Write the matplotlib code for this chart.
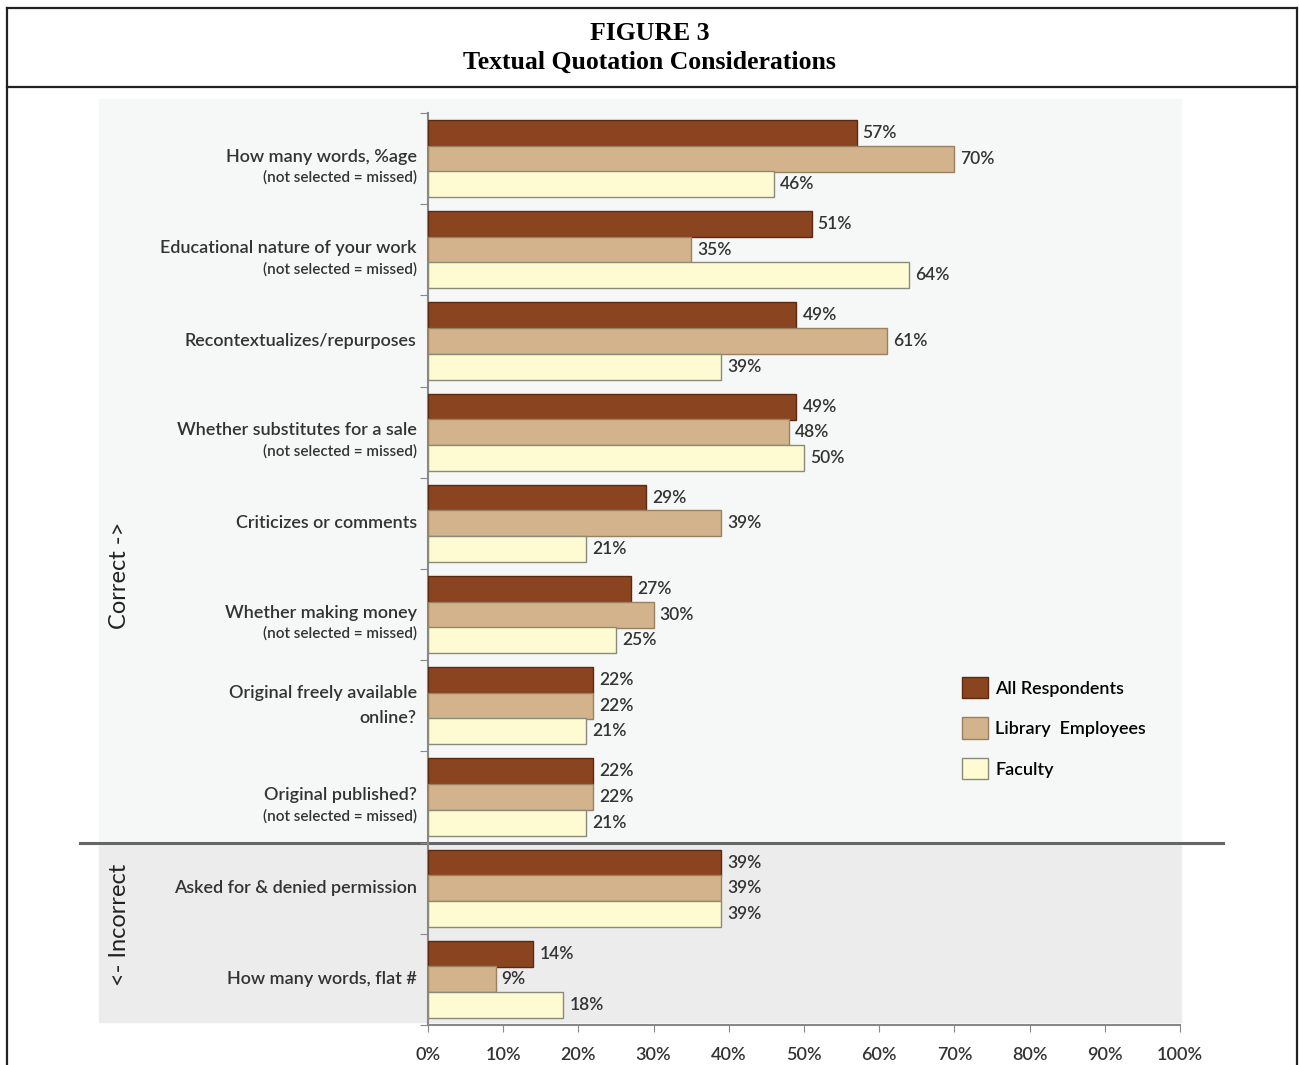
import matplotlib.pyplot as plt
from matplotlib.patches import Rectangle, Patch
from matplotlib.lines import Line2D

# DATA
categories = ["How many words, %age", "Educational nature of your work",
              "Recontextualizes/repurposes", "Whether substitutes for a sale",
              "Criticizes or comments", "Whether making money",
              "Original freely available\nonline?", "Original published?",
              "Asked for & denied permission", "How many words, flat #"]
missed_note = [True, True, False, True, False, True, False, True, False, False]
all_resp = [57, 51, 49, 49, 29, 27, 22, 22, 39, 14]
library = [70, 35, 61, 48, 39, 30, 22, 22, 39, 9]
faculty = [46, 64, 39, 50, 21, 25, 21, 21, 39, 18]
series_names = ["All Respondents", "Library  Employees", "Faculty"]
colors = ["#8b4420", "#d3b38b", "#fefad2"]
edges = ["#5a2a12", "#9a8062", "#8a8a7a"]
xticks = list(range(0, 101, 10))

W, H = 1299, 1065
fig = plt.figure(figsize=(W / 100, H / 100), dpi=100)
plt.rcParams['font.family'] = ['Lato', 'DejaVu Sans']

def fx(px):
    return px / W

def fy(py):
    return 1 - py / H

# backgrounds
fig.patches.append(Rectangle((fx(99), fy(841)), fx(1181 - 99), (841 - 99) / H,
                             transform=fig.transFigure, color="#f6f8f8", zorder=-2))
fig.patches.append(Rectangle((fx(99), fy(1022)), fx(1181 - 99), (1022 - 845) / H,
                             transform=fig.transFigure, color="#ececec", zorder=-2))

# frame lines
for xs, ys, lw, c in [([7, 1297], [8, 8], 1.6, "#222"),
                      ([7, 1297], [87, 87], 1.6, "#222"),
                      ([7, 7], [8, 1065], 1.6, "#222"),
                      ([1297, 1297], [8, 1065], 1.6, "#222"),
                      ([80, 1223], [843, 843], 2.2, "#666")]:
    fig.lines.append(Line2D([fx(v) for v in xs], [fy(v) for v in ys], lw=lw,
                            color=c, transform=fig.transFigure, zorder=-1))

fig.text(0.5, fy(33), "FIGURE 3", ha="center", va="center", fontsize=18.5,
         fontweight="bold", family="Liberation Serif")
fig.text(0.5, fy(62), "Textual Quotation Considerations", ha="center", va="center",
         fontsize=18.5, fontweight="bold", family="Liberation Serif")

ax = fig.add_axes([fx(428), fy(1025), fx(1180 - 428), (1025 - 113) / H])
ax.set_facecolor("none")
ax.set_zorder(2)

n = len(categories)
bh = 0.285
offsets = [0.22, 0.5, 0.78]
for s, vals in enumerate([all_resp, library, faculty]):
    ys = [i + offsets[s] for i in range(n)]
    ax.barh(ys, vals, height=bh, color=colors[s], edgecolor=edges[s], lw=1,
            label=series_names[s], zorder=3)
    for y, v in zip(ys, vals):
        ax.text(v + 0.8, y, f"{v}%", va="center", ha="left", fontsize=12.5,
                color="#333", fontweight="semibold")

ax.set_xlim(0, 100)
ax.set_ylim(n, 0)
ax.set_xticks(xticks)
ax.set_xticklabels([f"{t}%" for t in xticks], fontsize=13, color="#333",
                   fontweight="semibold")
ax.set_yticks(range(n + 1))
ax.set_yticklabels([])
ax.tick_params(axis="x", direction="out", length=5, color="#888", pad=11)
ax.tick_params(axis="y", direction="out", length=6, color="#888")
for side in ["top", "right"]:
    ax.spines[side].set_visible(False)
for side in ["left", "bottom"]:
    ax.spines[side].set_color("#888")
    ax.spines[side].set_linewidth(1.5)

for i, cat in enumerate(categories):
    if missed_note[i]:
        ax.text(-1.5, i + 0.48, cat, ha="right", va="center", fontsize=13,
                color="#333", fontweight="semibold")
        ax.text(-1.5, i + 0.71, "(not selected = missed)", ha="right", va="center",
                fontsize=11, color="#333", fontweight="semibold")
    else:
        ax.text(-1.5, i + 0.5, cat, ha="right", va="center", fontsize=13,
                color="#333", fontweight="semibold", linespacing=1.7)

fig.text(fx(120), fy(575), "Correct ->", rotation=90, ha="center", va="center",
         fontsize=17, color="#222")
fig.text(fx(120), fy(925), "<- Incorrect", rotation=90, ha="center", va="center",
         fontsize=17, color="#222")

handles = [Patch(facecolor=colors[k], edgecolor=edges[k], lw=1) for k in range(3)]
fig.legend(handles, series_names, loc="upper left",
           bbox_to_anchor=(fx(953), fy(668)), frameon=False,
           handlelength=1.45, handleheight=1.45, labelspacing=1.05, handletextpad=0.4,
           borderpad=0, prop={"weight": "semibold", "size": 13})

fig.savefig("out.png", dpi=100)
